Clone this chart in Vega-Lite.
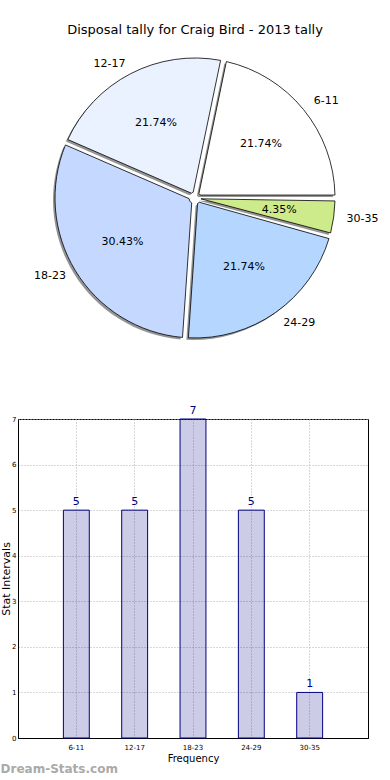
{
  "$schema": "https://vega.github.io/schema/vega-lite/v6.json",
  "padding": {"top": 24, "left": 0, "right": 0, "bottom": 0},
  "spacing": 55,
  "config": {
    "font": "DejaVu Sans",
    "view": {"stroke": null},
    "title": {"font": "DejaVu Sans", "fontWeight": "normal", "color": "black"}
  },
  "datasets": {
    "tally": [
      {"range": "6-11", "count": 5, "pct": "21.74%"},
      {"range": "12-17", "count": 5, "pct": "21.74%"},
      {"range": "18-23", "count": 7, "pct": "30.43%"},
      {"range": "24-29", "count": 5, "pct": "21.74%"},
      {"range": "30-35", "count": 1, "pct": "4.35%"}
    ]
  },
  "vconcat": [
    {
      "width": 354,
      "height": 302,
      "title": {"text": "Disposal tally for Craig Bird - 2013 tally", "fontSize": 13, "offset": 10, "anchor": "middle"},
      "data": {"name": "tally"},
      "encoding": {
        "theta": {"field": "count", "type": "quantitative", "stack": true, "scale": {"range": [0.2049, 6.4881]}},
        "order": {"field": "range", "sort": "descending"}
      },
      "layer": [
        {
          "mark": {"type": "arc", "radius": 140, "radius2": 6, "padAngle": 0.042, "fill": "#707070", "opacity": 0.75, "xOffset": -2, "yOffset": 2}
        },
        {
          "mark": {"type": "arc", "radius": 140, "radius2": 6, "padAngle": 0.042, "stroke": "black", "strokeWidth": 0.8},
          "encoding": {
            "color": {"field": "range", "type": "nominal", "legend": null,
              "scale": {"domain": ["6-11", "12-17", "18-23", "24-29", "30-35"],
                        "range": ["#ffffff", "#eaf1ff", "#c5d8ff", "#b4d6ff", "#cdeb8b"]}}
          }
        },
        {
          "mark": {"type": "text", "radius": 85, "fontSize": 11, "color": "black"},
          "encoding": {"text": {"field": "pct"}}
        },
        {
          "mark": {"type": "text", "radius": 153, "fontSize": 11, "color": "black", "align": "left"},
          "encoding": {"text": {"condition": {"test": "datum.range == '6-11' || datum.range == '24-29' || datum.range == '30-35'", "field": "range"}, "value": ""}}
        },
        {
          "mark": {"type": "text", "radius": 151, "fontSize": 11, "color": "black", "align": "right"},
          "encoding": {"text": {"condition": {"test": "datum.range == '12-17' || datum.range == '18-23'", "field": "range"}, "value": ""}}
        }
      ]
    },
    {
      "width": 350,
      "height": 319,
      "view": {"stroke": "black", "strokeWidth": 1},
      "title": {"text": "Dream-Stats.com", "orient": "bottom", "anchor": "start", "frame": "bounds", "fontSize": 12, "color": "#aaaaaa", "fontWeight": "bold", "offset": 1},
      "data": {"name": "tally"},
      "encoding": {
        "x": {"field": "range", "type": "nominal", "sort": ["6-11", "12-17", "18-23", "24-29", "30-35"],
          "scale": {"paddingInner": 0.556, "paddingOuter": 0.778},
          "axis": {"title": "Frequency", "titleFontSize": 10, "titleFontWeight": "normal", "titlePadding": 3,
                   "labelFontSize": 7, "labelAngle": 0, "labelPadding": 5, "labelColor": "black", "bandPosition": 0.5,
                   "ticks": false, "domainColor": "black", "grid": true, "gridColor": "#b0b0b0", "gridDash": [1, 2]}},
        "y": {"field": "count", "type": "quantitative",
          "scale": {"domain": [0, 7], "nice": false},
          "axis": {"title": "Stat Intervals", "titleFontSize": 11, "titleFontWeight": "normal", "titlePadding": 0,
                   "values": [0, 1, 2, 3, 4, 5, 6, 7], "labelFontSize": 7, "labelPadding": 2, "labelColor": "black",
                   "ticks": false, "domainColor": "black", "grid": true, "gridColor": "#b0b0b0", "gridDash": [1, 2]}}
      },
      "layer": [
        {"mark": {"type": "bar", "fill": "#000080", "fillOpacity": 0.2, "stroke": "#000080", "strokeWidth": 1}},
        {"mark": {"type": "text", "baseline": "bottom", "dy": -3, "fontSize": 11, "color": "#000080"},
         "encoding": {"text": {"field": "count", "type": "quantitative"}}}
      ]
    }
  ]
}
